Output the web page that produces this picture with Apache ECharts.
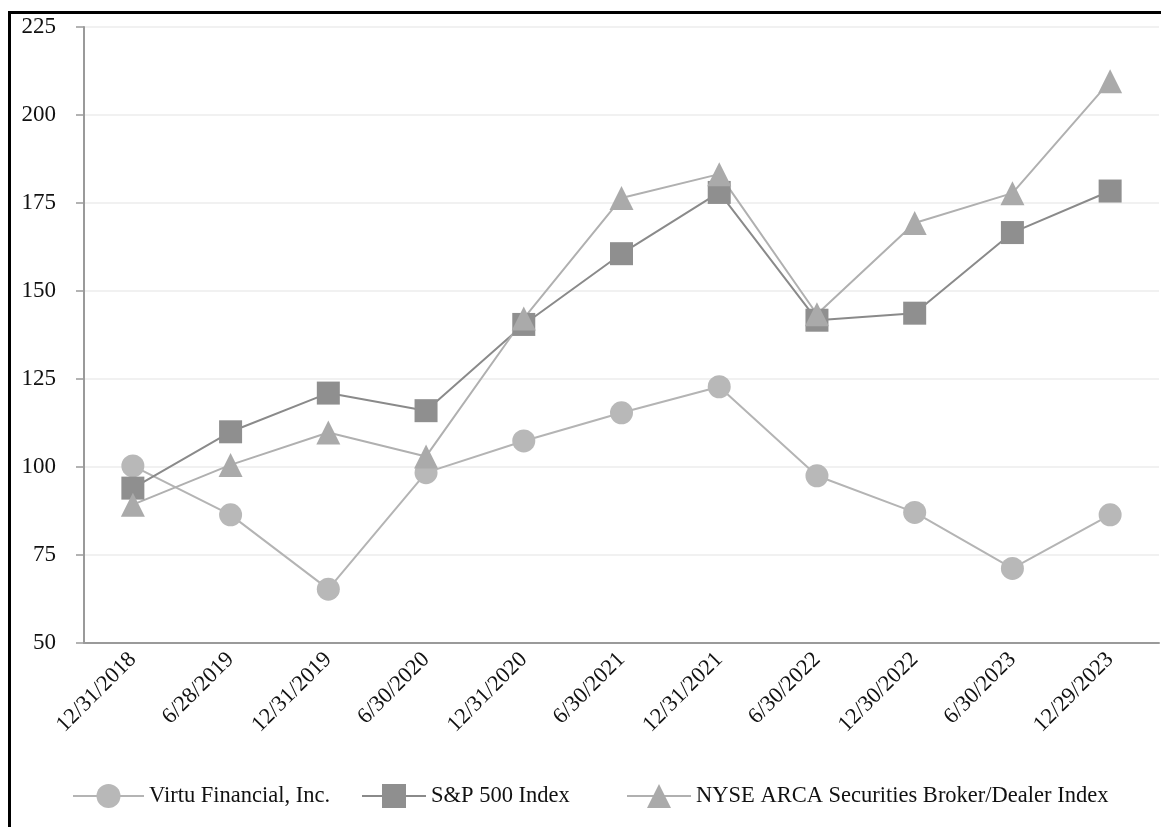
<!DOCTYPE html>
<html>
<head>
<meta charset="utf-8">
<script src="https://cdn.jsdelivr.net/npm/echarts@6/dist/echarts.min.js"></script>
<style>
html,body{margin:0;padding:0;background:#fff;}
#frame{position:absolute;left:8px;top:11px;width:1153px;height:816px;border-left:3px solid #000;border-top:3px solid #000;box-sizing:border-box;}
#chart{position:absolute;left:0;top:0;width:1161px;height:827px;}
</style>
</head>
<body>
<div id="frame"></div>
<div id="chart"></div>
<script>
const categories = ['12/31/2018','6/28/2019','12/31/2019','6/30/2020','12/31/2020','6/30/2021','12/31/2021','6/30/2022','12/30/2022','6/30/2023','12/29/2023'];
const virtu = [100.3, 86.4, 65.3, 98.4, 107.4, 115.4, 122.8, 97.5, 87.1, 71.2, 86.4];
const sp500 = [94.0, 110.0, 121.0, 116.0, 140.5, 160.6, 178.0, 141.7, 143.7, 166.6, 178.4];
const nyseArca = [89.3, 100.6, 109.8, 103.0, 142.2, 176.4, 183.2, 143.4, 169.3, 177.8, 209.6];
const yTicks = {min: 50, max: 225, interval: 25};
const names = ['Virtu Financial, Inc.', 'S&P 500 Index', 'NYSE ARCA Securities Broker/Dealer Index'];

const font = 'Liberation Serif';
const chart = echarts.init(document.getElementById('chart'));
function series(name, data, symbol, size, color, lineColor) {
  return {
    name, type: 'line', data, symbol, symbolSize: size,
    itemStyle: {color: color},
    lineStyle: {color: lineColor, width: 2},
    emphasis: {disabled: true},
    animation: false
  };
}
function legend(name, left, w) {
  return {
    data: [name], left: left, bottom: 19, padding: 0,
    itemWidth: w, itemHeight: 30, itemGap: 0,
    textStyle: {fontFamily: font, fontSize: 22.5, color: '#111'}
  };
}
chart.setOption({
  backgroundColor: 'transparent',
  animation: false,
  grid: {left: 84, right: 2, top: 27, bottom: 184},
  xAxis: {
    type: 'category', data: categories, boundaryGap: true,
    axisLine: {lineStyle: {color: '#9a9a9a', width: 2}},
    axisTick: {alignWithLabel: true, length: 9, lineStyle: {color: '#9a9a9a', width: 1.5}},
    axisLabel: {rotate: 45, color: '#111', fontFamily: font, fontSize: 22.5, margin: 13, interval: 0}
  },
  yAxis: {
    type: 'value', min: yTicks.min, max: yTicks.max, interval: yTicks.interval,
    axisLine: {show: true, lineStyle: {color: '#9a9a9a', width: 2}},
    axisTick: {show: true, length: 8, lineStyle: {color: '#9a9a9a', width: 1.5}},
    axisLabel: {color: '#111', fontFamily: font, fontSize: 23, margin: 28},
    splitLine: {lineStyle: {color: '#ececec', width: 1.5}}
  },
  legend: [
    legend(names[0], 72, 71),
    legend(names[1], 361, 64),
    legend(names[2], 626, 64)
  ],
  series: [
    series(names[0], virtu, 'circle', 23, '#b8b8b8', '#b4b4b4'),
    series(names[1], sp500, 'rect', 23, '#8f8f8f', '#8a8a8a'),
    series(names[2], nyseArca, 'triangle', 24, '#aaaaaa', '#b0b0b0')
  ]
});
</script>
</body>
</html>
